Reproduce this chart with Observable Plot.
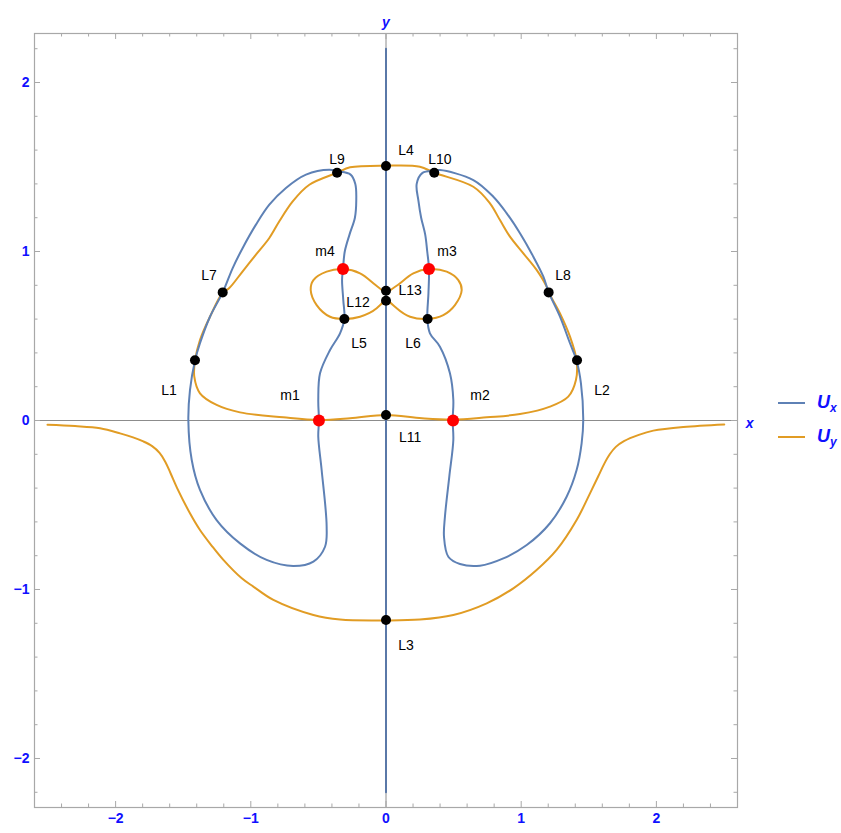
<!DOCTYPE html>
<html>
<head>
<meta charset="utf-8">
<script src="https://cdn.jsdelivr.net/npm/d3@7"></script>
<script src="https://cdn.jsdelivr.net/npm/@observablehq/plot@0.6"></script>
<style>
  html, body { margin: 0; padding: 0; background: #fff; }
  #wrap { position: relative; width: 841px; height: 833px; font-family: "Liberation Sans", Arial, sans-serif; }
  #legend { position: absolute; left: 778px; top: 386px; color: #1010ff; font-weight: bold; font-style: italic; font-size: 18px; }
  .item { display: flex; align-items: center; height: 34px; }
  .sw { width: 27px; height: 2.5px; margin-right: 12px; }
  sub { font-size: 12px; vertical-align: -4px; }
</style>
</head>
<body>
<div id="wrap">
  <div id="chart"></div>
  <div id="legend">
    <div class="item"><span class="sw" style="background:#5e81b5"></span><span>U<sub>x</sub></span></div>
    <div class="item"><span class="sw" style="background:#e19c24"></span><span>U<sub>y</sub></span></div>
  </div>
</div>
<script>
// ---- data ----
const xMajorTicks = [-2, -1, 0, 1, 2];
const xMinorTicks = [-2.4, -2.2, -1.8, -1.6, -1.4, -1.2, -0.8, -0.6, -0.4, -0.2, 0.2, 0.4, 0.6, 0.8, 1.2, 1.4, 1.6, 1.8, 2.2, 2.4];
const yMajorTicks = [-2, -1, 0, 1, 2];
const yMinorTicks = [-2.2, -1.8, -1.6, -1.4, -1.2, -0.8, -0.6, -0.4, -0.2, 0.2, 0.4, 0.6, 0.8, 1.2, 1.4, 1.6, 1.8, 2.2];

// U_x = 0 (blue)
const uxAxisLine = [[0, -2.2], [0, 2.2]];
const uxLeftLoop = [
  [-0.36, 1.475], [-0.419, 1.484], [-0.592, 1.455], [-0.740, 1.376], [-0.863, 1.277], [-0.962, 1.159],
  [-1.060, 1.021], [-1.134, 0.902], [-1.208, 0.758], [-1.302, 0.614], [-1.376, 0.457], [-1.413, 0.354],
  [-1.450, 0.180], [-1.462, 0.0], [-1.437, -0.234], [-1.376, -0.411], [-1.253, -0.589], [-1.080, -0.727],
  [-0.883, -0.825], [-0.686, -0.861], [-0.537, -0.835], [-0.451, -0.747], [-0.439, -0.628], [-0.476, -0.293],
  [-0.501, -0.096], [-0.496, 0], [-0.501, 0.121], [-0.488, 0.279],
  [-0.414, 0.417], [-0.340, 0.516], [-0.308, 0.601], [-0.316, 0.713], [-0.325, 0.831], [-0.318, 0.898],
  [-0.305, 1.0], [-0.27, 1.10], [-0.23, 1.20], [-0.22, 1.30], [-0.227, 1.40], [-0.262, 1.455]
];
const uxRightLoop = [
  [0.36, 1.478], [0.40, 1.482], [0.646, 1.423], [0.794, 1.324], [0.893, 1.226], [0.991, 1.108],
  [1.090, 0.969], [1.164, 0.851], [1.203, 0.759], [1.287, 0.614], [1.361, 0.457], [1.410, 0.354],
  [1.442, 0.220], [1.459, 0.003], [1.447, -0.135], [1.410, -0.293], [1.336, -0.451], [1.213, -0.608],
  [1.041, -0.737], [0.868, -0.816], [0.695, -0.859], [0.547, -0.849], [0.461, -0.806], [0.429, -0.688],
  [0.436, -0.569], [0.468, -0.333], [0.498, -0.115], [0.493, 0], [0.498, 0.121], [0.473, 0.279],
  [0.399, 0.437], [0.325, 0.516], [0.306, 0.601], [0.314, 0.753], [0.318, 0.898], [0.305, 1.0],
  [0.29, 1.10], [0.26, 1.20], [0.24, 1.30], [0.227, 1.40], [0.27, 1.465]
];

// U_y = 0 (orange)
const uyUpperLoop = [
  [0, 1.508], [-0.266, 1.498], [-0.362, 1.466], [-0.567, 1.395], [-0.690, 1.297], [-0.789, 1.179],
  [-0.863, 1.080], [-0.962, 0.981], [-1.060, 0.883], [-1.159, 0.784], [-1.208, 0.756], [-1.302, 0.614],
  [-1.376, 0.476], [-1.413, 0.354], [-1.418, 0.259], [-1.376, 0.161], [-1.253, 0.092], [-1.080, 0.048],
  [-0.760, 0.019], [-0.496, 0.003], [-0.266, 0.013], [0, 0.033], [0.266, 0.013], [0.493, 0.005],
  [0.745, 0.019], [0.991, 0.038], [1.213, 0.082], [1.348, 0.141], [1.405, 0.240], [1.410, 0.354],
  [1.361, 0.496], [1.287, 0.634], [1.203, 0.759], [1.188, 0.792], [1.114, 0.891], [1.016, 0.989],
  [0.917, 1.088], [0.843, 1.186], [0.769, 1.285], [0.646, 1.383], [0.357, 1.466], [0.251, 1.502]
];
const uyLeftLobe = [
  [0.0, 0.738], [-0.094, 0.812], [-0.192, 0.871], [-0.316, 0.896], [-0.439, 0.881], [-0.537, 0.831],
  [-0.557, 0.772], [-0.513, 0.683], [-0.414, 0.614], [-0.308, 0.601], [-0.192, 0.614], [-0.069, 0.664]
];
const uyRightLobe = [
  [0.0, 0.738], [0.104, 0.812], [0.202, 0.871], [0.318, 0.896], [0.449, 0.881], [0.535, 0.831],
  [0.560, 0.772], [0.510, 0.683], [0.424, 0.624], [0.308, 0.601], [0.178, 0.614], [0.079, 0.664]
];
const uyLowerCurve = [
  [-2.504, -0.025], [-2.300, -0.033], [-2.115, -0.046], [-1.967, -0.076], [-1.871, -0.100], [-1.795, -0.124],
  [-1.730, -0.152], [-1.675, -0.192], [-1.632, -0.245], [-1.592, -0.315], [-1.545, -0.400], [-1.450, -0.549],
  [-1.376, -0.648], [-1.290, -0.740], [-1.203, -0.825], [-1.067, -0.934], [-0.981, -0.983], [-0.833, -1.062],
  [-0.537, -1.151], [-0.340, -1.178], [0, -1.183], [0.251, -1.178], [0.498, -1.151], [0.745, -1.082],
  [0.942, -0.993], [1.114, -0.885], [1.262, -0.766], [1.410, -0.589], [1.509, -0.431], [1.570, -0.330],
  [1.615, -0.255], [1.655, -0.200], [1.700, -0.156], [1.760, -0.122], [1.870, -0.085], [1.977, -0.060],
  [2.200, -0.038], [2.502, -0.023]
];

// equilibrium points
const blackPoints = [
  [-1.413, 0.357], [1.413, 0.357], [0, -1.18], [0, 1.506], [-0.308, 0.601], [0.308, 0.601],
  [-1.208, 0.758], [1.203, 0.758], [-0.362, 1.466], [0.357, 1.466], [0, 0.033], [0, 0.709], [0, 0.768]
];
const redPoints = [[-0.496, 0], [0.496, 0], [0.318, 0.896], [-0.318, 0.896]];

const labelNames = ["L4", "L9", "L10", "m4", "m3", "L7", "L8", "L13", "L12", "L5", "L6", "L1", "L2", "m1", "m2", "L11", "L3"];
const labelX = [0.148, -0.362, 0.399, -0.451, 0.451, -1.309, 1.309, 0.178, -0.207, -0.200, 0.200, -1.605, 1.598, -0.710, 0.695, 0.178, 0.148];
const labelY = [1.595, 1.547, 1.547, 0.997, 0.997, 0.855, 0.855, 0.772, 0.701, 0.453, 0.453, 0.175, 0.175, 0.145, 0.145, -0.098, -1.334];

// ---- chart ----
const W = 841, H = 833;
const mL = 34, mR = 104, mT = 33, mB = 26;
const innerW = W - mL - mR, innerH = H - mT - mB;
const BLUE = "#5e81b5", ORANGE = "#e19c24", FRAME = "#a8a8a8", TICKBLUE = "#1010ff";
const majorLen = 6, minorLen = 3.5;
const fmt = d => d < 0 ? "\u2212" + Math.abs(d) : String(d);
const labels = labelNames.map((t, i) => ({t, x: labelX[i], y: labelY[i]}));
const px = d => d[0], py = d => d[1];

const chart = Plot.plot({
  width: W, height: H,
  marginLeft: mL, marginRight: mR, marginTop: mT, marginBottom: mB,
  x: {domain: [-2.6, 2.6], axis: null},
  y: {domain: [-2.29, 2.29], axis: null},
  style: {fontFamily: "'Liberation Sans', Arial, sans-serif", background: "white"},
  marks: [
    Plot.ruleY([0], {stroke: "#8c8c8c", strokeWidth: 1}),
    Plot.ruleX([0], {stroke: "#8c8c8c", strokeWidth: 1}),
    Plot.ruleX(xMajorTicks, {x: d => d, insetTop: innerH - majorLen, stroke: FRAME}),
    Plot.ruleX(xMinorTicks, {x: d => d, insetTop: innerH - minorLen, stroke: FRAME}),
    Plot.ruleX(xMajorTicks, {x: d => d, insetBottom: innerH - majorLen, stroke: FRAME}),
    Plot.ruleX(xMinorTicks, {x: d => d, insetBottom: innerH - minorLen, stroke: FRAME}),
    Plot.ruleY(yMajorTicks, {y: d => d, insetRight: innerW - majorLen, stroke: FRAME}),
    Plot.ruleY(yMinorTicks, {y: d => d, insetRight: innerW - minorLen, stroke: FRAME}),
    Plot.ruleY(yMajorTicks, {y: d => d, insetLeft: innerW - majorLen, stroke: FRAME}),
    Plot.ruleY(yMinorTicks, {y: d => d, insetLeft: innerW - minorLen, stroke: FRAME}),
    Plot.frame({stroke: FRAME, strokeWidth: 1.2}),
    Plot.text(xMajorTicks, {x: d => d, frameAnchor: "bottom", dy: 15, text: fmt, fill: TICKBLUE, fontWeight: "bold", fontSize: 14}),
    Plot.text(yMajorTicks, {y: d => d, frameAnchor: "left", dx: -5, textAnchor: "end", text: fmt, fill: TICKBLUE, fontWeight: "bold", fontSize: 14}),
    Plot.text([0], {x: d => d, frameAnchor: "top", dy: -16, text: () => "y", fill: TICKBLUE, fontWeight: "bold", fontStyle: "italic", fontSize: 14}),
    Plot.text([0], {y: d => d, frameAnchor: "right", dx: 16, dy: 3, text: () => "x", fill: TICKBLUE, fontWeight: "bold", fontStyle: "italic", fontSize: 14}),
    Plot.line(uyLowerCurve, {x: px, y: py, stroke: ORANGE, strokeWidth: 2, curve: "catmull-rom"}),
    Plot.line(uyUpperLoop, {x: px, y: py, stroke: ORANGE, strokeWidth: 2, curve: "catmull-rom-closed"}),
    Plot.line(uyLeftLobe, {x: px, y: py, stroke: ORANGE, strokeWidth: 2, curve: "catmull-rom-closed"}),
    Plot.line(uyRightLobe, {x: px, y: py, stroke: ORANGE, strokeWidth: 2, curve: "catmull-rom-closed"}),
    Plot.line(uxAxisLine, {x: px, y: py, stroke: "#5a78a8", strokeWidth: 2}),
    Plot.line(uxLeftLoop, {x: px, y: py, stroke: BLUE, strokeWidth: 2, curve: "catmull-rom-closed"}),
    Plot.line(uxRightLoop, {x: px, y: py, stroke: BLUE, strokeWidth: 2, curve: "catmull-rom-closed"}),
    Plot.dot(blackPoints, {x: px, y: py, r: 5, fill: "black"}),
    Plot.dot(redPoints, {x: px, y: py, r: 6, fill: "#ff0000"}),
    Plot.text(labels, {x: "x", y: "y", text: "t", fill: "black", fontSize: 14})
  ]
});
document.getElementById("chart").appendChild(chart);
</script>
</body>
</html>
